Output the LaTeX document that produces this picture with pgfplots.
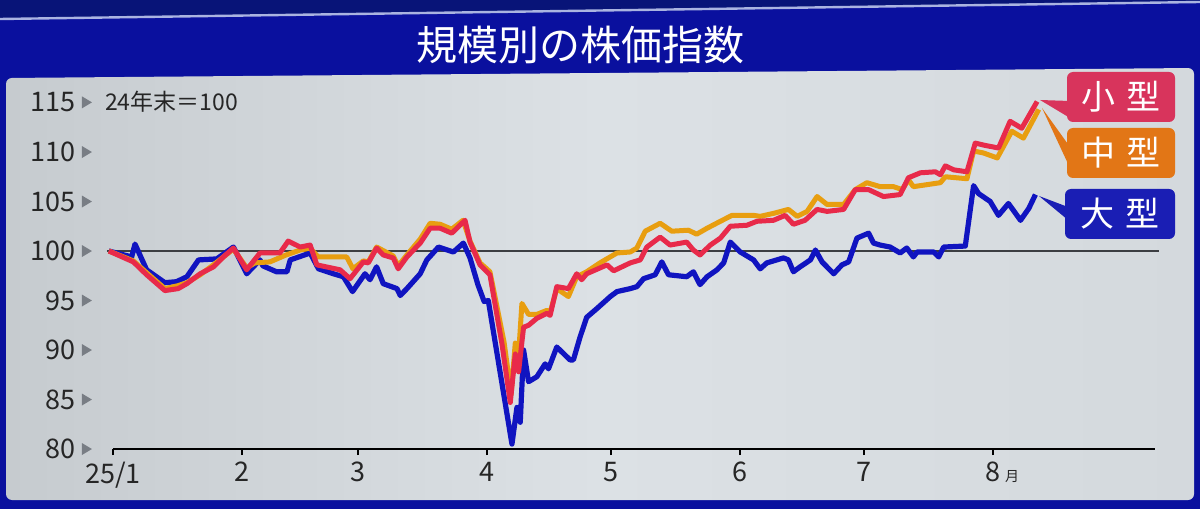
\documentclass[border=0pt]{standalone}
\usepackage{pgfplots}
\pgfplotsset{compat=1.18}
\usepackage{fontspec}
\setmainfont{Noto Sans CJK JP}

\definecolor{frameblue}{RGB}{10,16,158}
\definecolor{topblue}{RGB}{8,20,120}
\definecolor{edgeline}{RGB}{170,180,225}
\definecolor{panelL}{RGB}{198,203,207}
\definecolor{panelM}{RGB}{220,225,229}
\definecolor{panelR}{RGB}{212,217,221}
\definecolor{smallc}{RGB}{232,42,74}
\definecolor{midc}{RGB}{232,158,16}
\definecolor{largec}{RGB}{16,20,192}
\definecolor{smallbox}{RGB}{216,52,92}
\definecolor{midbox}{RGB}{226,118,22}
\definecolor{largebox}{RGB}{26,30,180}
\definecolor{tri}{RGB}{120,125,132}
\definecolor{refline}{RGB}{60,62,66}

% days counted from 1 Jan 2025, index 24 end = 100
\pgfplotstableread{
d v
-1 100.0
4.5 99.4
5.3 100.7
8.1 98.1
12.5 96.8
15.3 96.9
17.8 97.4
20.6 99.1
25.0 99.2
27.0 99.8
29.0 100.4
32.2 97.7
35.4 99.1
36.1 98.5
39.4 97.9
41.9 97.9
42.7 99.1
47.5 99.8
49.5 98.2
53.1 97.7
55.5 97.4
57.7 95.9
60.7 97.7
61.9 97.1
63.5 98.4
65.1 96.7
68.4 96.2
69.2 95.5
70.8 96.2
74.0 97.7
75.6 99.1
78.4 100.4
82.0 99.9
84.4 100.8
86.0 99.3
87.9 96.6
89.4 94.9
90.4 95.0
96.1 80.5
97.3 84.2
98.1 82.7
98.9 90.0
100.1 86.8
102.1 87.3
104.1 88.6
104.9 88.1
106.9 90.3
110.1 89.0
110.9 89.0
112.5 91.3
114.1 93.3
116.6 94.2
119.8 95.4
121.4 95.9
124.6 96.2
126.2 96.4
127.8 97.2
130.6 97.6
132.2 98.9
133.8 97.6
138.2 97.4
139.8 97.9
141.4 96.6
143.1 97.4
145.5 98.1
147.1 98.8
148.7 100.9
151.1 99.9
154.3 99.1
155.9 98.2
157.5 98.8
161.5 99.3
162.7 99.1
163.9 97.9
165.5 98.4
168.0 99.1
169.2 100.1
170.8 98.9
173.6 97.7
175.6 98.6
177.2 98.9
179.2 101.3
182.0 101.8
183.2 100.8
184.8 100.6
187.2 100.4
189.6 99.8
191.2 100.3
192.8 99.4
193.7 99.9
197.7 99.9
198.9 99.4
200.1 100.4
205.3 100.5
207.3 106.6
208.5 105.8
211.3 105.0
213.3 103.6
215.7 104.8
218.6 103.1
220.6 104.3
222.2 105.7
}\large

\pgfplotstableread{
d v
-1 100.0
4.9 99.0
8.1 97.8
12.5 96.2
15.7 96.5
17.8 96.8
21.0 97.6
24.2 98.6
26.6 99.4
29.0 100.2
32.2 98.3
34.2 98.8
37.8 98.9
41.7 99.6
45.1 100.1
47.5 100.3
49.4 99.4
56.3 99.4
57.8 98.2
60.3 99.0
61.5 98.9
63.5 100.4
67.5 99.5
68.7 98.5
70.8 99.6
74.0 101.2
76.4 102.8
78.8 102.7
81.6 102.2
84.3 103.1
86.0 101.0
88.4 98.8
90.8 97.9
94.2 90.8
95.9 85.5
96.9 90.7
97.7 89.5
98.5 94.7
100.1 93.6
102.1 93.6
104.5 94.0
105.3 93.8
106.9 96.2
109.7 95.4
111.7 97.4
114.1 97.9
117.3 98.8
121.4 99.8
124.6 99.9
126.2 100.3
128.2 102.0
131.8 102.8
134.6 102.0
138.6 102.1
140.6 101.7
143.1 102.3
146.3 103.0
149.1 103.6
154.3 103.6
155.9 103.5
159.1 103.8
162.7 104.2
164.8 103.5
167.2 104.0
169.6 105.5
172.0 104.7
176.0 104.7
178.8 106.2
181.6 106.9
184.8 106.5
188.0 106.5
190.1 106.2
191.6 107.2
192.8 106.5
199.3 106.9
200.5 107.5
205.7 107.3
207.3 110.1
209.7 109.9
213.0 109.4
216.5 112.1
219.3 111.4
223.0 114.3
}\mid

\pgfplotstableread{
d v
-1 100.0
4.9 98.9
8.1 97.6
12.5 96.0
15.7 96.2
17.8 96.7
21.0 97.7
24.2 98.4
26.6 99.4
29.0 100.3
32.2 98.1
35.4 99.8
40.2 99.8
42.2 101.0
45.1 100.4
47.5 100.6
49.1 98.6
54.7 98.1
57.1 97.2
60.3 98.9
61.5 98.8
63.5 100.3
65.1 99.6
67.5 99.3
68.7 98.2
70.8 99.4
74.0 100.8
76.4 102.3
78.8 102.3
81.6 101.8
84.8 103.1
86.0 100.9
88.4 98.6
90.8 97.6
93.7 90.6
95.7 84.7
96.9 89.6
97.7 87.8
98.9 92.3
100.1 92.5
102.1 93.2
104.5 93.7
105.3 93.5
106.9 96.4
109.7 96.2
111.7 97.7
112.9 97.1
114.1 97.7
119.0 98.6
120.6 98.0
124.6 98.8
127.0 99.1
128.6 100.4
131.8 101.4
134.2 100.6
138.2 100.9
139.8 100.1
141.4 99.6
143.9 100.6
146.3 101.3
148.7 102.5
152.7 102.6
155.1 103.0
159.1 103.1
161.9 103.6
163.9 102.7
166.7 103.1
169.6 104.2
172.0 104.0
176.0 104.2
178.8 106.2
182.0 106.2
185.6 105.5
189.6 105.7
191.6 107.4
194.5 107.9
198.1 108.0
199.3 107.7
200.5 108.6
202.5 108.2
205.7 108.0
207.7 110.9
209.7 110.7
213.3 110.4
216.1 113.1
218.9 112.4
222.6 115.1
}\small

\newcommand{\tickarrow}{\tikz[baseline={(0,-1.8pt)}]\fill[tri] (0,0) -- (0,6pt) -- (5pt,3pt) -- cycle;}

\begin{document}
\begin{tikzpicture}[x=0.5pt,y=0.5pt]
\useasboundingbox (0,0) rectangle (1200,509);
\fill[frameblue] (0,0) rectangle (1200,509);
\fill[topblue] (0,490) -- (1200,507) -- (1200,509) -- (0,509) -- cycle;
\draw[edgeline, line width=1.2pt] (0,490) -- (1200,507);
\shade[left color=panelL, right color=panelR, middle color=panelM, rounded corners=3pt]
  (6,9) -- (6,431) -- (1194,441) -- (1194,9) -- cycle;
\node[text=white, font=\fontsize{20.5}{20.5}\selectfont] at (580,464) {規模別の株価指数};

\begin{axis}[
  at={(56.5pt,30pt)}, anchor=south west,
  scale only axis, width=521pt, height=178.2pt,
  xmin=0, xmax=251, ymin=80, ymax=116,
  clip=false,
  axis x line=bottom, axis y line=left,
  axis line style={-},
  x axis line style={line width=1pt, black},
  y axis line style={draw=none},
  xtick={0,31,59,90,120,151,181,212},
  xticklabels={25/1,2,3,4,5,6,7,{8\makebox[0pt][l]{\,\fontsize{7}{7}\selectfont 月}}},
  ytick={80,85,...,115},
  tick align=outside, major tick length=3pt,
  x tick style={line width=1pt, black},
  y tick style={draw=none},
  tick label style={font=\fontsize{13.5}{13.5}\selectfont, text=black!85},
  /pgf/number format/assume math mode=true,
  yticklabel={\pgfmathprintnumber{\tick}\hspace{3pt}\tickarrow},
  yticklabel style={anchor=east, xshift=-4pt},
  line join=round,
]
\addplot[refline, line width=1pt] coordinates {(-1.5,100) (252,100)};
\addplot[largec, line width=2.6pt] table[x=d, y=v] {\large};
\addplot[midc, line width=2.5pt] table[x=d, y=v] {\mid};
\addplot[smallc, line width=2.5pt] table[x=d, y=v] {\small};
\end{axis}

\node[anchor=west, font=\fontsize{11.5}{11.5}\selectfont, text=black!85] at (98,407) {24年末＝100};

% labels
\fill[smallbox] (1040,409) -- (1070,408) -- (1070,391) -- cycle;
\fill[midbox] (1042,401) -- (1070,362) -- (1070,341) -- cycle;
\fill[largebox] (1039,313) -- (1068,302) -- (1068,289) -- cycle;
\fill[smallbox, rounded corners=3pt] (1067,387) rectangle (1175,437);
\fill[midbox, rounded corners=3pt] (1067,331) rectangle (1175,381);
\fill[largebox, rounded corners=3pt] (1065,270) rectangle (1175,320);
\begin{scope}[every node/.style={text=white, font=\fontsize{17}{17}\selectfont}]
\node at (1121,412) {小\hspace{6pt}型};
\node at (1121,356) {中\hspace{6pt}型};
\node at (1120,295) {大\hspace{6pt}型};
\end{scope}
\end{tikzpicture}
\end{document}
